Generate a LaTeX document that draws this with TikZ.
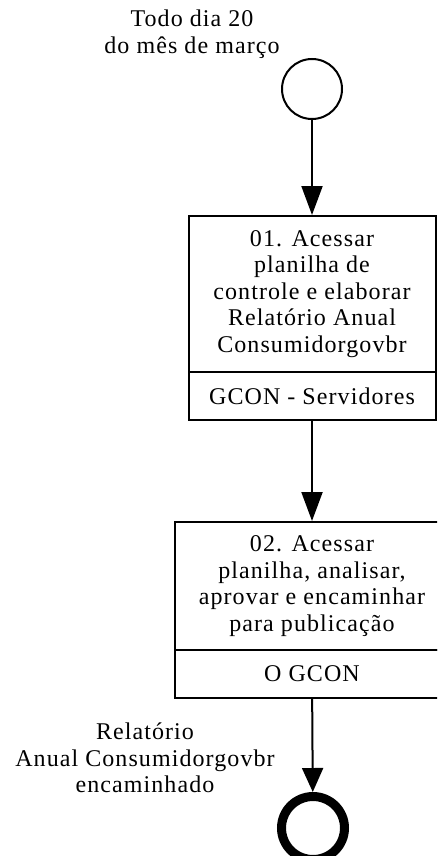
\documentclass[tikz,border=0pt]{standalone}
\usepackage{fontspec}
\setmainfont[LetterSpace=4.5]{Liberation Serif}
\usetikzlibrary{arrows.meta}
\begin{document}
\begin{tikzpicture}[x=1pt,y=-1pt,
  every node/.style={font=\fontsize{24}{26.5}\selectfont},
  box/.style={draw, line width=2pt, align=center, inner sep=0pt},
  conn/.style={line width=2pt, -{Triangle[width=21pt,length=29pt]}},
  lbl/.style={align=center, inner sep=0pt}]
\useasboundingbox (0,0) rectangle (437,856);
\clip (0,0) rectangle (437,856);
\node[circle, draw, line width=2pt, minimum size=60pt, inner sep=0pt] (start) at (312,89) {};
\node[lbl] (startlbl) at (192,34) {Todo dia 20\\do mês de março};
\node[box, minimum width=247pt, minimum height=156pt] (b1) at (312,294)
  {01. Acessar\\planilha de\\controle e elaborar\\Relatório Anual\\Consumidorgovbr};
\node[box, minimum width=247pt, minimum height=48pt] (b1f) at (312,396) {GCON - Servidores};
\node[box, minimum width=274pt, minimum height=128pt] (b2) at (312,586)
  {02. Acessar\\planilha, analisar,\\aprovar e encaminhar\\para publicação};
\node[box, minimum width=274pt, minimum height=48pt] (b2f) at (312,674) {O GCON};
\node[circle, draw, line width=9pt, minimum size=63pt, inner sep=0pt] (end) at (313,828) {};
\node[lbl] (endlbl) at (145,758) {Relatório\\Anual Consumidorgovbr\\encaminhado};
\draw[conn] (start) -- (b1);
\draw[conn] (b1f) -- (b2);
\draw[conn, -{Triangle[width=21pt,length=24pt]}] (b2f) -- (end);
\end{tikzpicture}
\end{document}
